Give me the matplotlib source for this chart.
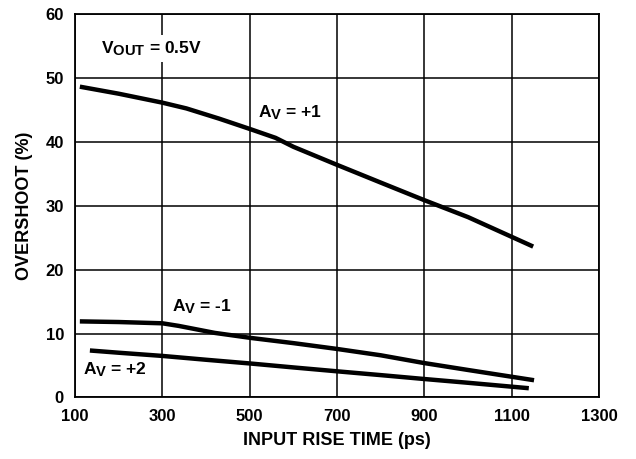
import matplotlib
matplotlib.use('Agg')
import matplotlib.pyplot as plt
import matplotlib._mathtext as mathtext_internal

plt.rcParams['font.family'] = ['Liberation Sans', 'DejaVu Sans']
plt.rcParams['font.weight'] = 'bold'
plt.rcParams['mathtext.fontset'] = 'custom'
plt.rcParams['mathtext.rm'] = 'Liberation Sans:bold'
plt.rcParams['mathtext.bf'] = 'Liberation Sans:bold'
plt.rcParams['mathtext.it'] = 'Liberation Sans:bold'
# subscripts in the original are nearly full size
mathtext_internal.SHRINK_FACTOR = 0.85

# rise time (ps) vs overshoot (%)
av_p1_x = [111, 200, 300, 355, 430, 504, 559, 600, 699, 800, 898, 1000, 1149]
av_p1_y = [48.6, 47.5, 46.1, 45.2, 43.6, 41.9, 40.6, 39.2, 36.4, 33.6, 30.9, 28.2, 23.6]

av_m1_x = [111, 200, 300, 337, 420, 504, 600, 699, 800, 898, 1000, 1151]
av_m1_y = [11.9, 11.8, 11.6, 11.2, 10.1, 9.3, 8.5, 7.6, 6.6, 5.4, 4.3, 2.7]

av_p2_x = [134, 200, 300, 400, 504, 600, 699, 800, 898, 1000, 1139]
av_p2_y = [7.35, 7.0, 6.5, 5.9, 5.3, 4.7, 4.1, 3.5, 2.9, 2.3, 1.45]

x_ticks = [100, 300, 500, 700, 900, 1100, 1300]
y_ticks = [0, 10, 20, 30, 40, 50, 60]

fig = plt.figure(figsize=(6.36, 4.59), dpi=100)
ax = fig.add_axes([0.118, 0.134, 0.824, 0.836])

for xs, ys in [(av_p1_x, av_p1_y), (av_m1_x, av_m1_y), (av_p2_x, av_p2_y)]:
    ax.plot(xs, ys, color='black', lw=3.2, solid_capstyle='butt', zorder=3)

ax.set_xlim(100, 1300)
ax.set_ylim(0, 60)
ax.set_xticks(x_ticks)
ax.set_yticks(y_ticks)
ax.tick_params(length=0, pad=8, labelsize=12)
ax.grid(True, color='black', lw=1.1)
for s in ax.spines.values():
    s.set_linewidth(1.3)

ax.set_xlabel('INPUT RISE TIME (ps)', fontsize=13, fontweight='bold', labelpad=6)
ax.set_ylabel('OVERSHOOT (%)', fontsize=13, fontweight='bold', labelpad=9)

ax.text(160, 54.6, r'$\mathrm{V_{OUT}}$ = 0.5V', fontsize=12.5, va='center',
        bbox=dict(facecolor='white', edgecolor='none', pad=3), zorder=4)
ax.text(520, 44.5, r'$\mathrm{A_{V}}$ = +1', fontsize=12.5, va='center', zorder=4)
ax.text(323, 14.2, r'$\mathrm{A_{V}}$ = -1', fontsize=12.5, va='center', zorder=4)
ax.text(119, 4.3, r'$\mathrm{A_{V}}$ = +2', fontsize=12.5, va='center', zorder=4)

fig.savefig('out.png', dpi=100)
